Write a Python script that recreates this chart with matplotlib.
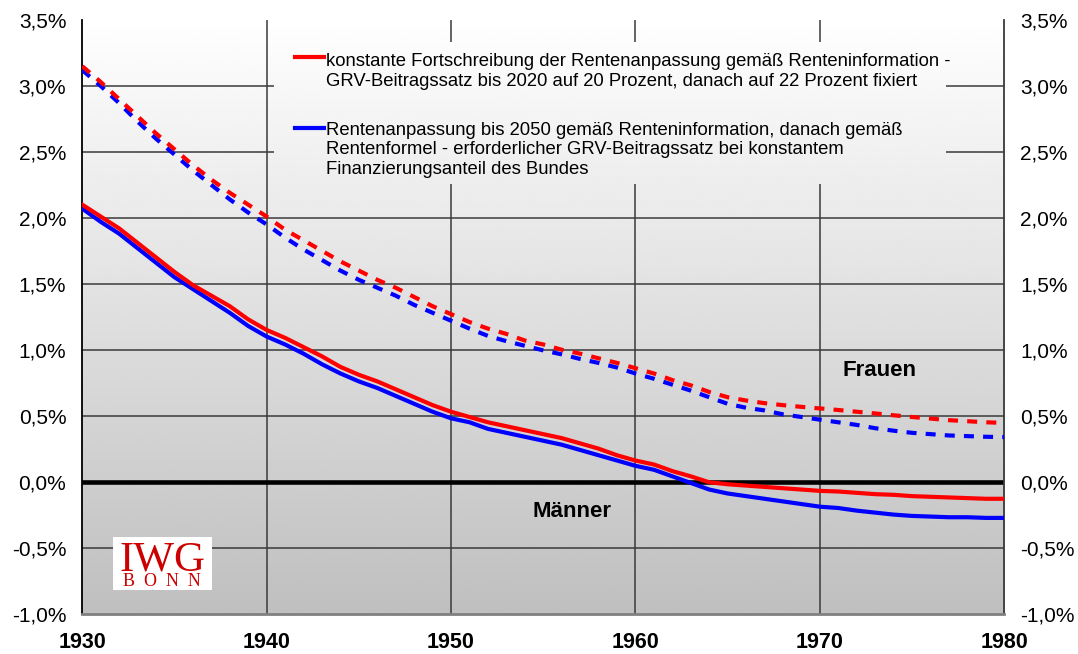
import numpy as np
import matplotlib
matplotlib.use('Agg')
import matplotlib.pyplot as plt
from matplotlib.lines import Line2D
from matplotlib.patches import Rectangle

plt.rcParams['font.family'] = ['Liberation Sans', 'DejaVu Sans']

# ---- data ----
jahre = np.arange(1930, 1981)

# Frauen (dashed)
frauen_rot = [3.15, 3.03, 2.90, 2.77, 2.64, 2.52, 2.40, 2.29, 2.19, 2.10,
              2.01, 1.91, 1.83, 1.75, 1.67, 1.60, 1.53, 1.47, 1.40, 1.33,
              1.27, 1.21, 1.16, 1.12, 1.07, 1.04, 1.00, 0.97, 0.935, 0.90,
              0.86, 0.82, 0.77, 0.73, 0.68, 0.64, 0.615, 0.595, 0.58, 0.567,
              0.555, 0.543, 0.53, 0.517, 0.503, 0.49, 0.478, 0.466, 0.458, 0.45,
              0.445]
frauen_blau = [3.12, 3.00, 2.87, 2.73, 2.60, 2.48, 2.36, 2.25, 2.14, 2.04,
               1.95, 1.85, 1.76, 1.68, 1.60, 1.53, 1.47, 1.41, 1.34, 1.28,
               1.22, 1.16, 1.105, 1.065, 1.03, 0.995, 0.965, 0.93, 0.90, 0.865,
               0.82, 0.78, 0.735, 0.69, 0.64, 0.59, 0.56, 0.54, 0.51, 0.49,
               0.47, 0.45, 0.43, 0.405, 0.386, 0.37, 0.36, 0.35, 0.345, 0.34,
               0.338]

# Maenner (solid)
maenner_rot = [2.10, 2.01, 1.92, 1.81, 1.70, 1.59, 1.49, 1.41, 1.33, 1.23,
               1.15, 1.09, 1.02, 0.95, 0.87, 0.81, 0.76, 0.70, 0.64, 0.58,
               0.53, 0.49, 0.45, 0.42, 0.39, 0.36, 0.33, 0.29, 0.25, 0.20,
               0.16, 0.13, 0.08, 0.04, -0.005, -0.02, -0.03, -0.04, -0.05, -0.06,
               -0.07, -0.075, -0.085, -0.095, -0.10, -0.11, -0.115, -0.12, -0.125, -0.13,
               -0.13]
maenner_blau = [2.07, 1.97, 1.88, 1.77, 1.66, 1.55, 1.46, 1.37, 1.28, 1.18,
                1.10, 1.04, 0.97, 0.89, 0.82, 0.76, 0.71, 0.65, 0.59, 0.53,
                0.48, 0.45, 0.40, 0.37, 0.34, 0.31, 0.28, 0.24, 0.20, 0.16,
                0.12, 0.09, 0.04, -0.01, -0.06, -0.09, -0.11, -0.13, -0.15, -0.17,
                -0.19, -0.20, -0.22, -0.235, -0.25, -0.26, -0.265, -0.27, -0.27, -0.275,
                -0.275]

x_ticks = [1930, 1940, 1950, 1960, 1970, 1980]
y_ticks = [-1.0, -0.5, 0.0, 0.5, 1.0, 1.5, 2.0, 2.5, 3.0, 3.5]
y_labels = ['-1,0%', '-0,5%', '0,0%', '0,5%', '1,0%', '1,5%', '2,0%', '2,5%', '3,0%', '3,5%']

label_rot = ('konstante Fortschreibung der Rentenanpassung gemäß Renteninformation -\n'
             'GRV-Beitragssatz bis 2020 auf 20 Prozent, danach auf 22 Prozent fixiert')
label_blau = ('Rentenanpassung bis 2050 gemäß Renteninformation, danach gemäß\n'
              'Rentenformel - erforderlicher GRV-Beitragssatz bei konstantem\n'
              'Finanzierungsanteil des Bundes')

ROT = '#ff0000'
BLAU = '#0000ff'

fig = plt.figure(figsize=(10.78, 6.54), dpi=100)
ax = fig.add_axes([0.0763, 0.0619, 0.8553, 0.9075])

# gradient background
grad = np.linspace(1.0, 0.75, 256)[:, None]
ext = [1930, 1980, -1.0, 3.5]
ax.imshow(grad, cmap='gray', vmin=0, vmax=1, extent=ext, origin='upper',
          aspect='auto', zorder=0, interpolation='bicubic')

# grid
for y in y_ticks[1:-1]:
    if y != 0:
        ax.axhline(y, color='#3a3a3a', lw=1.1, zorder=1)
for x in x_ticks[1:-1]:
    ax.axvline(x, color='#3a3a3a', lw=1.1, zorder=1)

# legend area covers the grid
leg_bg = ax.imshow(grad, cmap='gray', vmin=0, vmax=1, extent=ext, origin='upper',
                   aspect='auto', zorder=1.5, interpolation='bicubic')
clip = Rectangle((1940.4, 2.26), 36.4, 1.07, transform=ax.transData)
leg_bg.set_clip_path(clip)

ax.axhline(0, color='black', lw=3.3, zorder=2.5)

dash = (2.4, 2.2)
ax.plot(jahre, frauen_blau, color=BLAU, lw=3, dashes=dash, zorder=3)
ax.plot(jahre, frauen_rot, color=ROT, lw=3, dashes=dash, zorder=3)
ax.plot(jahre, maenner_blau, color=BLAU, lw=3, zorder=3)
ax.plot(jahre, maenner_rot, color=ROT, lw=3, zorder=3)

ax.set_xlim(1930, 1980)
ax.set_ylim(-1.0, 3.5)
ax.set_xticks(x_ticks)
ax.set_xticklabels([str(v) for v in x_ticks], fontsize=15.5, fontweight='bold')
ax.set_yticks(y_ticks)
ax.set_yticklabels(y_labels, fontsize=15)
ax.tick_params(axis='y', length=0, pad=11.5, labelleft=True, labelright=True)
ax.tick_params(axis='x', length=0, pad=13)

ax.spines['top'].set_visible(False)
ax.spines['left'].set_color('black')
ax.spines['left'].set_linewidth(1.3)
ax.spines['right'].set_color('#3a3a3a')
ax.spines['right'].set_linewidth(1.3)
ax.spines['bottom'].set_color('#808080')
ax.spines['bottom'].set_linewidth(2)

# legend drawn by hand so the key sits on the first text line
ax.add_line(Line2D([0.231, 0.262], [0.9375, 0.9375], transform=ax.transAxes,
                   color=ROT, lw=3, zorder=5))
ax.add_line(Line2D([0.231, 0.262], [0.8182, 0.8182], transform=ax.transAxes,
                   color=BLAU, lw=3, zorder=5))
ax.text(0.2643, 0.944, label_rot, transform=ax.transAxes, fontsize=13.3,
        va='top', ha='left', linespacing=1.2, zorder=5)
ax.text(0.2643, 0.828, label_blau, transform=ax.transAxes, fontsize=13.3,
        va='top', ha='left', linespacing=1.17, zorder=5)

ax.text(1973.26, 0.843, 'Frauen', fontsize=16, fontweight='bold', ha='center', va='center', zorder=5)
ax.text(1956.55, -0.225, 'Männer', fontsize=16, fontweight='bold', ha='center', va='center', zorder=5)

# IWG BONN logo
fig.patches.append(Rectangle((0.1045, 0.0979), 0.0918, 0.0815, transform=fig.transFigure,
                             facecolor='white', edgecolor='none', zorder=6))
fig.text(0.1503, 0.1284, 'IWG', fontsize=31, color='#cc0000', ha='center', va='baseline',
         family=['Liberation Serif', 'DejaVu Serif'], zorder=7)
fig.text(0.1503, 1 - 586 / 654, 'B  O  N  N', fontsize=13, color='#cc0000', ha='center',
         va='baseline', family=['Liberation Serif', 'DejaVu Serif'], zorder=7)

fig.savefig('out.png', dpi=100)
